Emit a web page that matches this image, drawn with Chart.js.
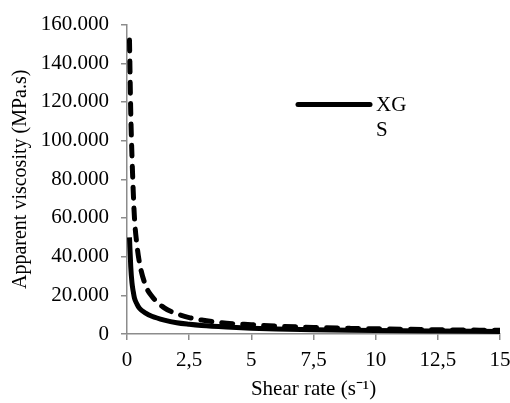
<!DOCTYPE html>
<html>
<head>
<meta charset="utf-8">
<script src="https://cdn.jsdelivr.net/npm/chart.js@4"></script>
<style>
  html, body { margin: 0; padding: 0; background: #fff; }
  #wrap { width: 510px; height: 403px; }
</style>
</head>
<body>
<div id="wrap"><canvas id="viscChart" width="510" height="403"></canvas></div>
<script>
// shear rate (s-1) sampled along the curves
const shearRate = [0.1, 0.15, 0.2, 0.25, 0.3, 0.4, 0.5, 0.75, 1, 1.5, 2, 2.5, 3, 4, 5, 6, 7.5, 9, 10, 12.5, 15];
// apparent viscosity
const xgViscosity = [50000, 35000, 26500, 22000, 18500, 15500, 13300, 10800, 9200, 7200, 5800, 5000, 4400, 3600, 3000, 2600, 2200, 1900, 1750, 1500, 1300];
const sViscosity = [152000, 115000, 92000, 74000, 60000, 46000, 37000, 25000, 19500, 13500, 10500, 8500, 7200, 5600, 4800, 4100, 3400, 2900, 2700, 2200, 1900];

const xTickLabels = ['0', '2,5', '5', '7,5', '10', '12,5', '15'];
const yTickLabels = ['0', '20.000', '40.000', '60.000', '80.000', '100.000', '120.000', '140.000', '160.000'];

const FONT = '"Liberation Serif", "Times New Roman", serif';
const AXIS_GRAY = '#8c8c8c';

function toPoints(ys) {
    return shearRate.map((x, i) => ({ x: x, y: ys[i] }));
}

// legend: solid sample + "XG", then "S" on its own line (as in the original)
const legendPlugin = {
    id: 'legendBox',
    afterDraw(chart) {
        const ctx = chart.ctx;
        const area = chart.chartArea;
        const x0 = area.left + 171;
        const y0 = area.top + 80;
        ctx.save();
        ctx.strokeStyle = '#000';
        ctx.lineWidth = 5;
        ctx.lineCap = 'round';
        ctx.beginPath();
        ctx.moveTo(x0, y0);
        ctx.lineTo(x0 + 72, y0);
        ctx.stroke();
        ctx.fillStyle = '#000';
        ctx.font = '21px ' + FONT;
        ctx.textBaseline = 'middle';
        ctx.textAlign = 'left';
        ctx.fillText('XG', x0 + 78, y0 + 1);
        ctx.fillText('S', x0 + 78, y0 + 26);
        ctx.restore();
    }
};

const ctx = document.getElementById('viscChart').getContext('2d');

new Chart(ctx, {
    type: 'line',
    data: {
        datasets: [
            {
                label: 'XG',
                data: toPoints(xgViscosity),
                borderColor: '#000',
                borderWidth: 5,
                pointRadius: 0,
                cubicInterpolationMode: 'monotone',
                fill: false
            },
            {
                label: 'S',
                data: toPoints(sViscosity),
                borderColor: '#000',
                borderWidth: 5,
                borderDash: [11, 10],
                borderCapStyle: 'round',
                pointRadius: 0,
                cubicInterpolationMode: 'monotone',
                fill: false
            }
        ]
    },
    options: {
        responsive: false,
        animation: false,
        layout: { padding: { top: 21, right: 10, bottom: 0, left: 0 } },
        plugins: {
            legend: { display: false },
            tooltip: { enabled: false }
        },
        scales: {
            x: {
                type: 'linear',
                min: 0,
                max: 15,
                afterFit(scale) {
                    scale.height = 69;
                    // keep the right edge of the plot near the canvas edge
                    scale.paddingLeft = 0;
                    scale.paddingRight = 0;
                },
                border: { color: AXIS_GRAY, width: 1.5 },
                grid: {
                    drawOnChartArea: false,
                    drawTicks: true,
                    tickLength: 6,
                    color: AXIS_GRAY,
                    lineWidth: 1.5
                },
                ticks: {
                    stepSize: 2.5,
                    padding: 8,
                    color: '#000',
                    maxRotation: 0,
                    autoSkip: false,
                    font: { family: FONT, size: 21 },
                    callback: (v) => {
                        const i = Math.round(v / 2.5);
                        return xTickLabels[i] !== undefined ? xTickLabels[i] : '';
                    }
                },
                title: {
                    display: true,
                    text: 'Shear rate (s\u207B\u00B9)',
                    color: '#000',
                    font: { family: FONT, size: 21 },
                    padding: { top: 0, bottom: 1 }
                }
            },
            y: {
                min: 0,
                max: 160000,
                afterFit(scale) { scale.width = 127; },
                border: { color: AXIS_GRAY, width: 1.5 },
                grid: {
                    drawOnChartArea: false,
                    drawTicks: true,
                    tickLength: 6,
                    color: AXIS_GRAY,
                    lineWidth: 1.5
                },
                ticks: {
                    stepSize: 20000,
                    padding: 12,
                    color: '#000',
                    font: { family: FONT, size: 21 },
                    callback: (v) => {
                        const i = Math.round(v / 20000);
                        return yTickLabels[i] !== undefined ? yTickLabels[i] : '';
                    }
                },
                title: {
                    display: true,
                    text: 'Apparent viscosity (MPa.s)',
                    color: '#000',
                    font: { family: FONT, size: 20 },
                    padding: { top: 9, bottom: 0 }
                }
            }
        }
    },
    plugins: [legendPlugin]
});
</script>
</body>
</html>
